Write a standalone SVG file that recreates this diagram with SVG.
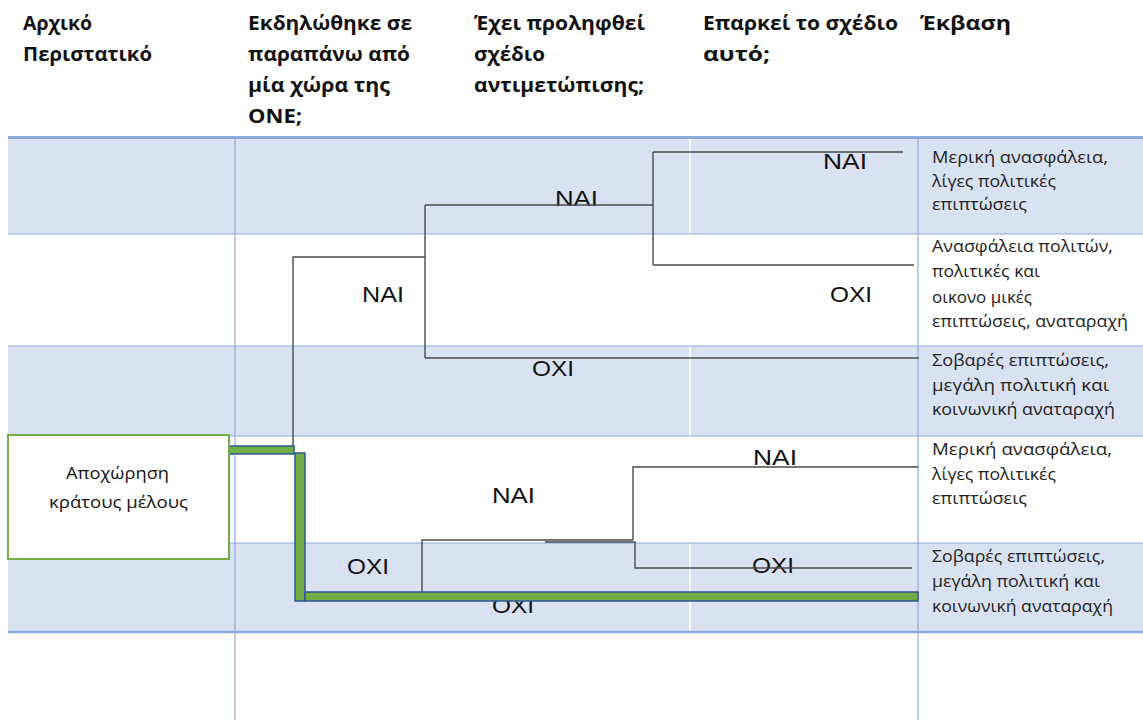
<svg xmlns="http://www.w3.org/2000/svg" width="1143" height="720" viewBox="0 0 1143 720">
<style>
.shade{fill:#D9E2F3}
.grid{stroke:#8EAADB;stroke-width:1.2;fill:none}
.gridw{stroke:#FFFFFF;stroke-width:1.5;fill:none}
.hdr{font-family:"Open Sans","Noto Sans",sans-serif;font-weight:700;font-size:20px;fill:#111}
.out{font-family:"Open Sans","Noto Sans",sans-serif;font-size:16px;fill:#222}
.lbl{font-family:"Liberation Sans",Arial,sans-serif;font-size:22px;fill:#111}
.box{fill:#FFFFFF;stroke:#70AD47;stroke-width:2}
.boxt{font-family:"Open Sans","Noto Sans",sans-serif;font-size:17px;fill:#111}
.ln{stroke:#4a4a4a;stroke-width:1.4;fill:none}
.hl{fill:#70AD47;stroke:#2F5597;stroke-width:1.5}
</style>
<rect width="1143" height="720" fill="#FFFFFF"/>
<g id="table">
<rect class="shade" x="8" y="138" width="1135" height="96"/>
<rect class="shade" x="8" y="346" width="1135" height="90"/>
<rect class="shade" x="8" y="543" width="1135" height="89"/>
<line class="gridw" x1="690" y1="138" x2="690" y2="632"/>
<line class="grid" x1="235" y1="138" x2="235" y2="720"/>
<line class="grid" x1="918" y1="138" x2="918" y2="720"/>
<line class="grid" x1="8" y1="234" x2="1143" y2="234"/>
<line class="grid" x1="8" y1="346" x2="1143" y2="346"/>
<line class="grid" x1="8" y1="436" x2="1143" y2="436"/>
<line class="grid" x1="8" y1="543" x2="1143" y2="543"/>
<line x1="8" y1="137.5" x2="1143" y2="137.5" stroke="#8EAADB" stroke-width="3"/>
<line x1="8" y1="632" x2="1143" y2="632" stroke="#8EAADB" stroke-width="2.5"/>
</g>
<g id="headers">
<text class="hdr" x="23" y="30" textLength="69" lengthAdjust="spacingAndGlyphs">Αρχικό</text>
<text class="hdr" x="23" y="61" textLength="129" lengthAdjust="spacingAndGlyphs">Περιστατικό</text>
<text class="hdr" x="248" y="30" textLength="164" lengthAdjust="spacingAndGlyphs">Εκδηλώθηκε σε</text>
<text class="hdr" x="248" y="61" textLength="162" lengthAdjust="spacingAndGlyphs">παραπάνω από</text>
<text class="hdr" x="248" y="92" textLength="142" lengthAdjust="spacingAndGlyphs">μία χώρα της</text>
<text class="hdr" x="248" y="123" textLength="54" lengthAdjust="spacingAndGlyphs">ONE;</text>
<text class="hdr" x="474" y="30" textLength="171" lengthAdjust="spacingAndGlyphs">Έχει προληφθεί</text>
<text class="hdr" x="474" y="61" textLength="71" lengthAdjust="spacingAndGlyphs">σχέδιο</text>
<text class="hdr" x="474" y="92" textLength="170" lengthAdjust="spacingAndGlyphs">αντιμετώπισης;</text>
<text class="hdr" x="703" y="30" textLength="195" lengthAdjust="spacingAndGlyphs">Επαρκεί το σχέδιο</text>
<text class="hdr" x="703" y="61" textLength="67" lengthAdjust="spacingAndGlyphs">αυτό;</text>
<text class="hdr" x="920" y="30" textLength="91" lengthAdjust="spacingAndGlyphs">Έκβαση</text>
</g>
<g id="labels">
<text class="lbl" x="823" y="169" textLength="44" lengthAdjust="spacingAndGlyphs">NAI</text>
<text class="lbl" x="555" y="206" textLength="43" lengthAdjust="spacingAndGlyphs">NAI</text>
<text class="lbl" x="362" y="302" textLength="42" lengthAdjust="spacingAndGlyphs">NAI</text>
<text class="lbl" x="830" y="302" textLength="42" lengthAdjust="spacingAndGlyphs">OXI</text>
<text class="lbl" x="532" y="376" textLength="42" lengthAdjust="spacingAndGlyphs">OXI</text>
<text class="lbl" x="753" y="465" textLength="44" lengthAdjust="spacingAndGlyphs">NAI</text>
<text class="lbl" x="492" y="503" textLength="43" lengthAdjust="spacingAndGlyphs">NAI</text>
<text class="lbl" x="347" y="574" textLength="42" lengthAdjust="spacingAndGlyphs">OXI</text>
<text class="lbl" x="752" y="573" textLength="42" lengthAdjust="spacingAndGlyphs">OXI</text>
<text class="lbl" x="492" y="613" textLength="42" lengthAdjust="spacingAndGlyphs">OXI</text>
</g>
<g id="connectors">
<polyline class="ln" points="293,450 293,257 425,257"/>
<polyline class="ln" points="425,205 425,358"/>
<line class="ln" x1="425" y1="205" x2="653" y2="205"/>
<line class="ln" x1="425" y1="358" x2="919" y2="358"/>
<line class="ln" x1="653" y1="152" x2="653" y2="265"/>
<line class="ln" x1="653" y1="152" x2="903" y2="152"/>
<line class="ln" x1="653" y1="265" x2="914" y2="265"/>
<polyline class="ln" points="422,592 422,540 633,540"/>
<polyline class="ln" points="633,540 633,467 918,467"/>
<polyline class="ln" points="545,542 635,542 635,568 912,568"/>
<g id="highlight-path">
<rect class="hl" x="229" y="446" width="65" height="8"/>
<rect class="hl" x="295" y="453" width="10" height="148"/>
<rect class="hl" x="305" y="592" width="613" height="9"/>
</g>
</g>
<g id="node-start">
<rect class="box" x="8" y="435" width="221" height="124"/>
<text class="boxt" x="66" y="479" textLength="103" lengthAdjust="spacingAndGlyphs">Αποχώρηση</text>
<text class="boxt" x="49" y="508" textLength="139" lengthAdjust="spacingAndGlyphs">κράτους μέλους</text>
</g>
<g id="outcome-1">
<text class="out" x="932" y="163" textLength="176" lengthAdjust="spacingAndGlyphs">Μερική ανασφάλεια,</text>
<text class="out" x="932" y="187" textLength="124" lengthAdjust="spacingAndGlyphs">λίγες πολιτικές</text>
<text class="out" x="932" y="210" textLength="95" lengthAdjust="spacingAndGlyphs">επιπτώσεις</text>
</g>
<g id="outcome-2">
<text class="out" x="932" y="252" textLength="181" lengthAdjust="spacingAndGlyphs">Ανασφάλεια πολιτών,</text>
<text class="out" x="932" y="277" textLength="108" lengthAdjust="spacingAndGlyphs">πολιτικές και</text>
<text class="out" x="932" y="303" textLength="100" lengthAdjust="spacingAndGlyphs">οικονο μικές</text>
<text class="out" x="932" y="327" textLength="196" lengthAdjust="spacingAndGlyphs">επιπτώσεις, αναταραχή</text>
</g>
<g id="outcome-3">
<text class="out" x="932" y="366" textLength="177" lengthAdjust="spacingAndGlyphs">Σοβαρές επιπτώσεις,</text>
<text class="out" x="932" y="391" textLength="177" lengthAdjust="spacingAndGlyphs">μεγάλη πολιτική και</text>
<text class="out" x="932" y="415" textLength="183" lengthAdjust="spacingAndGlyphs">κοινωνική αναταραχή</text>
</g>
<g id="outcome-4">
<text class="out" x="932" y="455" textLength="180" lengthAdjust="spacingAndGlyphs">Μερική ανασφάλεια,</text>
<text class="out" x="932" y="480" textLength="124" lengthAdjust="spacingAndGlyphs">λίγες πολιτικές</text>
<text class="out" x="932" y="504" textLength="95" lengthAdjust="spacingAndGlyphs">επιπτώσεις</text>
</g>
<g id="outcome-5">
<text class="out" x="932" y="562" textLength="173" lengthAdjust="spacingAndGlyphs">Σοβαρές επιπτώσεις,</text>
<text class="out" x="932" y="587" textLength="168" lengthAdjust="spacingAndGlyphs">μεγάλη πολιτική και</text>
<text class="out" x="932" y="612" textLength="181" lengthAdjust="spacingAndGlyphs">κοινωνική αναταραχή</text>
</g>
</svg>
